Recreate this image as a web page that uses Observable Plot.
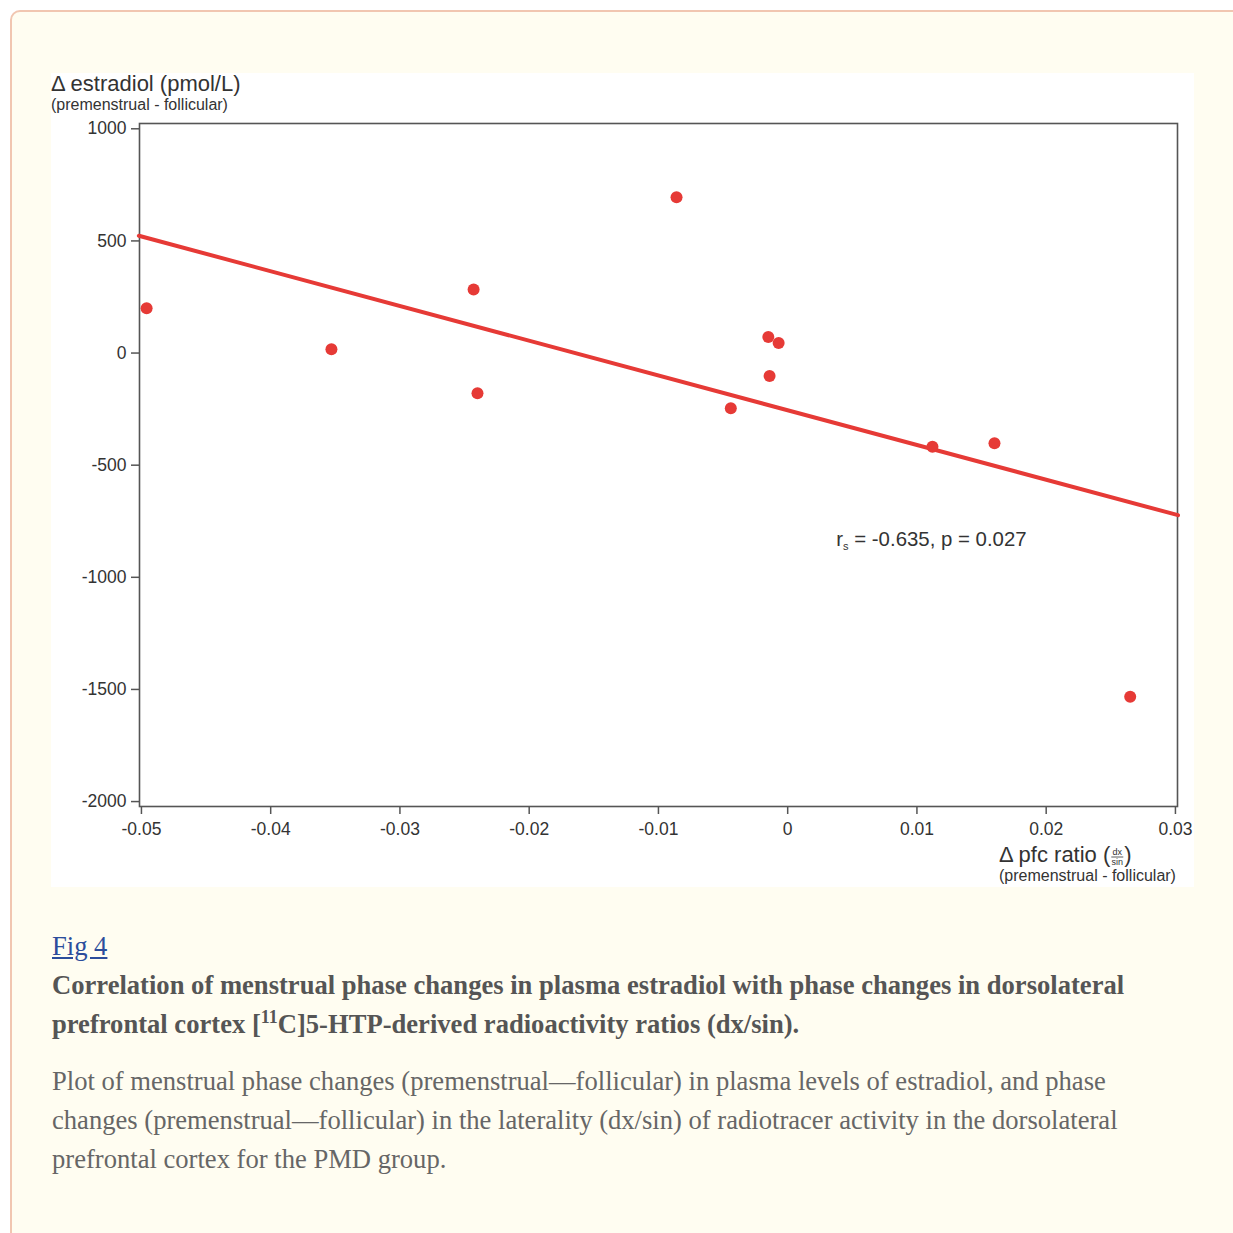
<!DOCTYPE html>
<html><head><meta charset="utf-8">
<script src="https://cdn.jsdelivr.net/npm/d3@7"></script>
<script src="https://cdn.jsdelivr.net/npm/@observablehq/plot@0.6"></script>
<style>
html,body{margin:0;padding:0;background:#fff;overflow:hidden;width:1233px;height:1233px;}
#card{position:absolute;left:10px;top:10px;width:1260px;height:1300px;border:2px solid #f1c6b1;border-radius:10px;background:#fffdf1;box-sizing:border-box;}
#chart{position:absolute;left:51px;top:73px;width:1143px;height:814px;background:#fff;}
#chart svg{overflow:visible;}
#cap{position:absolute;left:52px;top:927px;width:1150px;font-family:"Liberation Serif","Times New Roman",serif;font-size:26.6px;line-height:39px;}
#cap a{color:#2c4d9c;text-decoration:underline;}
#cap .t{font-weight:bold;color:#555;}
#cap .d{color:#666;margin-top:18px;}
sup{font-size:18px;line-height:0;vertical-align:10px;}
</style></head>
<body>
<div id="card"></div>
<div id="chart"></div>
<div id="cap">
<div><a href="#">Fig 4</a></div>
<div class="t">Correlation of menstrual phase changes in plasma estradiol with phase changes in dorsolateral<br>prefrontal cortex [<sup>11</sup>C]5-HTP-derived radioactivity ratios (dx/sin).</div>
<div class="d">Plot of menstrual phase changes (premenstrual—follicular) in plasma levels of estradiol, and phase<br>changes (premenstrual—follicular) in the laterality (dx/sin) of radiotracer activity in the dorsolateral<br>prefrontal cortex for the PMD group.</div>
</div>
<script>
// Data
const pfcRatio = [-0.0496, -0.0353, -0.0243, -0.0240, -0.0086, -0.0044, -0.0015, -0.0007, -0.0014, 0.0112, 0.0160, 0.0265];
const estradiol = [200, 17, 283, -179, 695, -246, 72, 45, -102, -418, -402, -1533];
const fitX = [-0.0502, 0.0302];
const fitY = [523, -723];
const xTicks = [-0.05, -0.04, -0.03, -0.02, -0.01, 0, 0.01, 0.02, 0.03];
const yTicks = [1000, 500, 0, -500, -1000, -1500, -2000];
const statText = {r: "r", sub: "s", rest: " = -0.635, p = 0.027", x: 0.0038, y: -833};

const pts = pfcRatio.map((x, i) => ({x, y: estradiol[i]}));
const fit = fitX.map((x, i) => ({x, y: fitY[i]}));
const red = "#e63a36";

const plot = Plot.plot({
  width: 1143, height: 814,
  marginLeft: 88, marginRight: 17, marginTop: 50, marginBottom: 81,
  style: {fontFamily: "'Liberation Sans', Arial, sans-serif", fontSize: "17.5px", color: "#333", background: "#fff", overflow: "visible"},
  x: {domain: [-0.05015, 0.03016], label: null},
  y: {domain: [-2022, 1023.6], label: null},
  marks: [
    Plot.axisX({ticks: xTicks, tickFormat: d => String(d), tickSize: 8, tickPadding: 8, label: null, stroke: "#555", strokeWidth: 1.5}),
    Plot.axisY({ticks: yTicks, tickFormat: d => String(d), tickSize: 8, tickPadding: 5, label: null, stroke: "#555", strokeWidth: 1.5}),
    Plot.frame({stroke: "#555", strokeWidth: 1.6}),
    Plot.line(fit, {x: "x", y: "y", stroke: red, strokeWidth: 4}),
    Plot.dot(pts, {x: "x", y: "y", r: 6, fill: red, stroke: "none"})
  ]
});
document.getElementById("chart").appendChild(plot);

const svg = d3.select(plot);
const sx = plot.scale("x"), sy = plot.scale("y");
const font = "'Liberation Sans', Arial, sans-serif";
const g = svg.append("g").attr("text-anchor", "start").attr("font-family", font).attr("fill", "#333");

// y-axis label
g.append("text").attr("x", 0).attr("y", 18).attr("font-size", 22).text("Δ estradiol (pmol/L)");
g.append("text").attr("x", 0).attr("y", 36.5).attr("font-size", 16).text("(premenstrual - follicular)");

// x-axis label
const xl = g.append("text").attr("x", 948).attr("y", 789).attr("font-size", 22).text("Δ pfc ratio (");
const w1 = xl.node().getComputedTextLength();
const fx = 948 + w1 + 1;
g.append("text").attr("x", fx + 6).attr("y", 782).attr("text-anchor", "middle").attr("font-size", 9).text("dx");
g.append("line").attr("x1", fx).attr("x2", fx + 12).attr("y1", 784).attr("y2", 784).attr("stroke", "#333").attr("stroke-width", 0.8);
g.append("text").attr("x", fx + 6).attr("y", 791.5).attr("text-anchor", "middle").attr("font-size", 9).text("sin");
g.append("text").attr("x", fx + 13).attr("y", 789).attr("font-size", 22).text(")");
g.append("text").attr("x", 948).attr("y", 808).attr("font-size", 16).text("(premenstrual - follicular)");

// statistic annotation
const st = g.append("text").attr("x", sx.apply(statText.x)).attr("y", sy.apply(statText.y) + 7).attr("font-size", 20.4);
st.append("tspan").text(statText.r);
st.append("tspan").attr("font-size", 11).attr("dy", 4).text(statText.sub);
st.append("tspan").attr("dy", -4).text(statText.rest);
</script>
</body></html>
